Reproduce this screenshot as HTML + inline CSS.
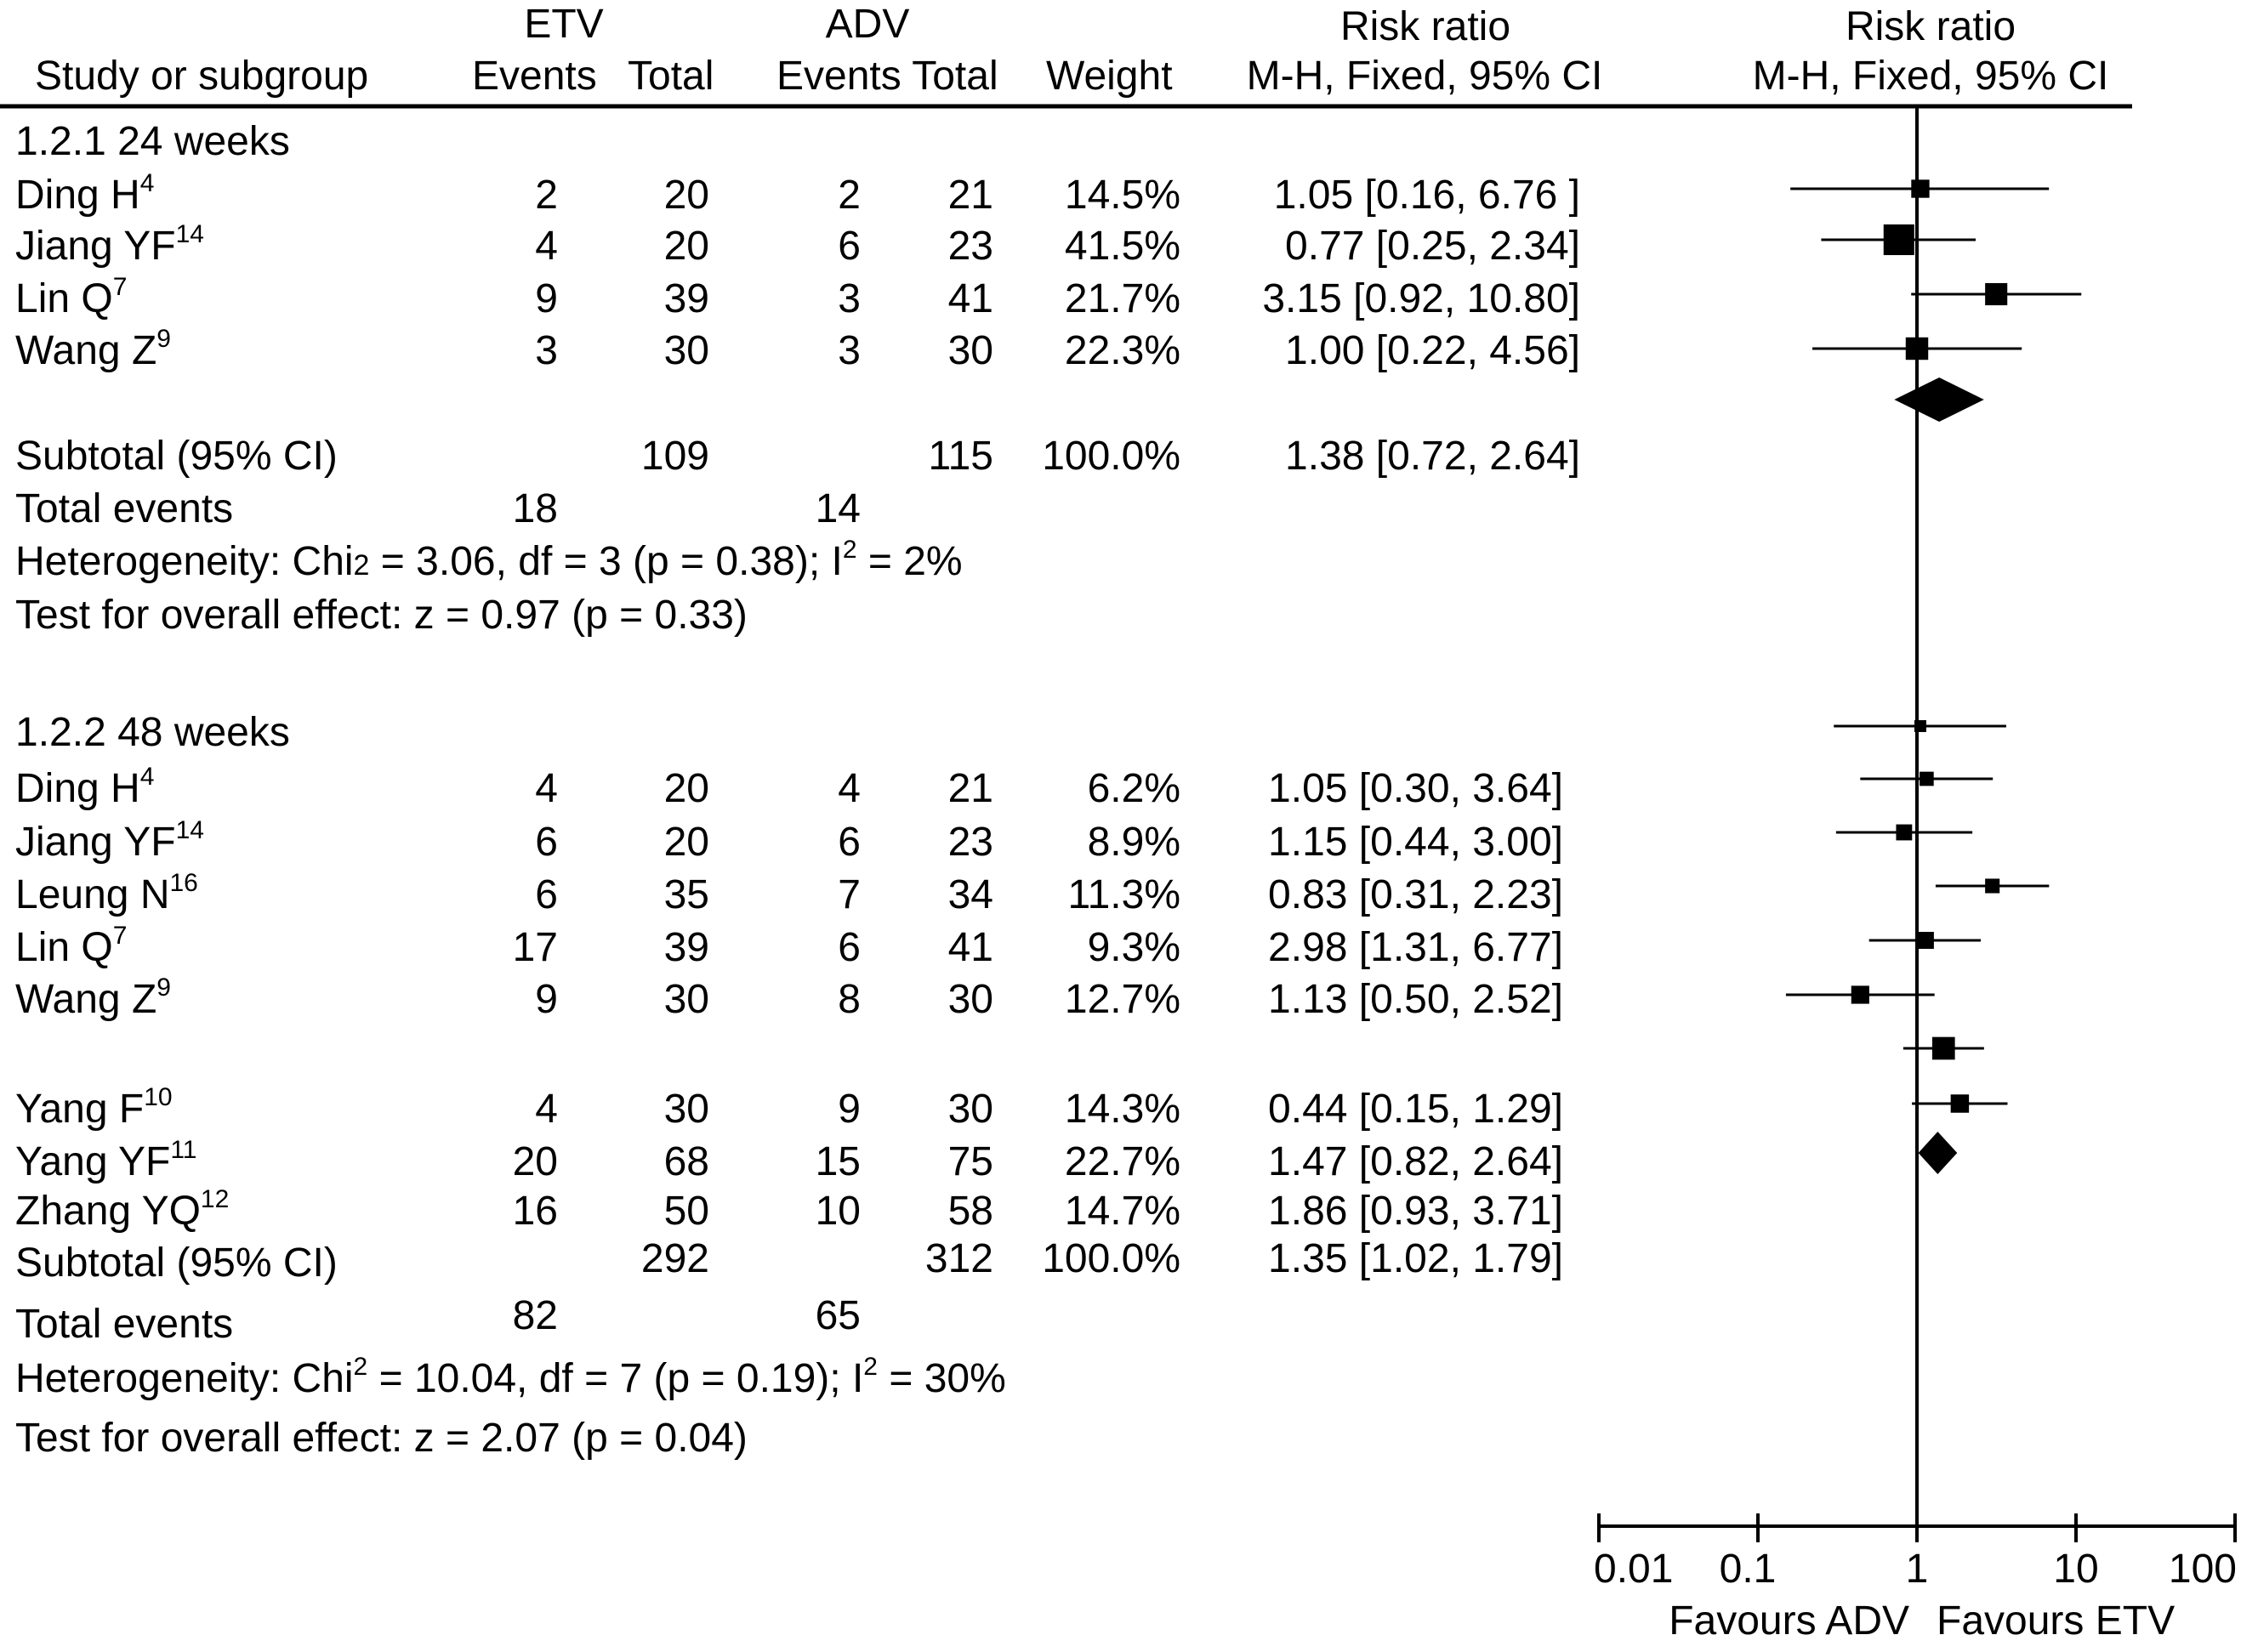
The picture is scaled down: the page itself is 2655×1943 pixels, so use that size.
<!DOCTYPE html>
<html><head><meta charset="utf-8"><style>
html,body{margin:0;padding:0;background:#fff}
svg{display:block}
text{font-family:"Liberation Sans",Arial,sans-serif;font-size:48px;fill:#000}
</style></head><body>
<svg id="chart" width="2655" height="1943" viewBox="0 0 2655 1943" xmlns="http://www.w3.org/2000/svg">
<g id="table"></g>
<g id="plot"></g>
</svg>
<script>
// ---- data ----
const studyNames = ["Ding H","Jiang YF","Lin Q","Wang Z","Ding H","Jiang YF","Leung N","Lin Q","Wang Z","Yang F","Yang YF","Zhang YQ"];
const studyRefs = ["4","14","7","9","4","14","16","7","9","10","11","12"];
const etvEvents = [2,4,9,3,4,6,6,17,9,4,20,16];
const etvTotal = [20,20,39,30,20,20,35,39,30,30,68,50];
const advEvents = [2,6,3,3,4,6,7,6,8,9,15,10];
const advTotal = [21,23,41,30,21,23,34,41,30,30,75,58];
const weights = [14.5,41.5,21.7,22.3,6.2,8.9,11.3,9.3,12.7,14.3,22.7,14.7];
const rrText = ["1.05 [0.16, 6.76 ]","0.77 [0.25, 2.34]","3.15 [0.92, 10.80]","1.00 [0.22, 4.56]","1.05 [0.30, 3.64]","1.15 [0.44, 3.00]","0.83 [0.31, 2.23]","2.98 [1.31, 6.77]","1.13 [0.50, 2.52]","0.44 [0.15, 1.29]","1.47 [0.82, 2.64]","1.86 [0.93, 3.71]"];
const rr = [1.05,0.77,3.15,1.00,1.05,1.15,0.83,2.98,1.13,0.44,1.47,1.86];
const ciLow = [0.16,0.25,0.92,0.22,0.30,0.44,0.31,1.31,0.50,0.15,0.82,0.93];
const ciHigh = [6.76,2.34,10.80,4.56,3.64,3.00,2.23,6.77,2.52,1.29,2.64,3.71];
const subRR = [1.38,1.35];
const subLow = [0.72,1.02];
const subHigh = [2.64,1.79];
const subEtvTotal = [109,292];
const subAdvTotal = [115,312];
const subEtvEvents = [18,82];
const subAdvEvents = [14,65];
const subRRText = ["1.38 [0.72, 2.64]","1.35 [1.02, 1.79]"];
const tickValues = [0.01,0.1,1,10,100];
const tickLabels = ["0.01","0.1","1","10","100"];

// ---- layout ----
const textY = [245,305,367,428,943,1006,1068,1130,1191,1320,1382,1440];
const markY = [222,282,346,410,854,916,979,1042,1106,1170,1233,1298];
const subTextY = [552,1501], subMarkY = [470,1356];
const X0 = 2254, DEC = 187;
const xs = v => X0 + DEC*Math.log10(v);
const NS = "http://www.w3.org/2000/svg";
const T = document.getElementById('table'), P = document.getElementById('plot');
function mk(tag, parent, attrs){const e=document.createElementNS(NS,tag);for(const k in attrs)e.setAttribute(k,attrs[k]);parent.appendChild(e);return e;}
function txt(parent,x,y,s,anchor,name){const e=mk('text',parent,{x:x,y:y,'text-anchor':anchor||'start'});e.textContent=s;


return e;}

// headers
txt(T,663,44,"ETV","middle","etv-header");
txt(T,1020,44,"ADV","middle","adv-header");
txt(T,1676,47,"Risk ratio","middle","risk-ratio-header");
txt(T,2270,47,"Risk ratio","middle","plot-risk-ratio-header");
txt(T,41,105,"Study or subgroup","start","study-header");
txt(T,555,105,"Events","start","etv-events-header");
txt(T,738,105,"Total","start","etv-total-header");
txt(T,913,105,"Events Total","start","adv-events-total-header");
txt(T,1230,105,"Weight","start","weight-header");
txt(T,1675,105,"M-H, Fixed, 95% CI","middle","ci-header");
txt(T,2270,105,"M-H, Fixed, 95% CI","middle","plot-ci-header");
const hl = mk('line',T,{x1:0,y1:125,x2:2507,y2:125,stroke:'#000','stroke-width':5});



txt(T,18,182,"1.2.1 24 weeks","start","subgroup-24-weeks");
txt(T,18,877,"1.2.2 48 weeks","start","subgroup-48-weeks");

for(let i=0;i<studyNames.length;i++){
  const y=textY[i];
  const n=txt(T,18,y,studyNames[i],"start","study-name");
  const sp=mk('tspan',n,{'font-size':'30','dy':'-20'}); sp.textContent=studyRefs[i];
  txt(T,656,y,String(etvEvents[i]),"end","etv-events");
  txt(T,834,y,String(etvTotal[i]),"end","etv-total");
  txt(T,1012,y,String(advEvents[i]),"end","adv-events");
  txt(T,1168,y,String(advTotal[i]),"end","adv-total");
  txt(T,1388,y,weights[i].toFixed(1)+"%","end","weight");
  txt(T,i<4?1858:1838,y,rrText[i],"end","risk-ratio-ci");
}
for(let g=0;g<2;g++){
  const y=subTextY[g];
  txt(T,18,y,"Subtotal (95% CI)","start","subtotal-label");
  txt(T,834,y-(g?5:0),String(subEtvTotal[g]),"end","subtotal-etv-total");
  txt(T,1168,y-(g?5:0),String(subAdvTotal[g]),"end","subtotal-adv-total");
  txt(T,1388,y-(g?5:0),"100.0%","end","subtotal-weight");
  txt(T,g?1838:1858,y-(g?5:0),subRRText[g],"end","subtotal-risk-ratio");
  const ty = g?1573:614;
  txt(T,18,ty,"Total events","start","total-events-label");
  txt(T,656,ty-(g?10:0),String(subEtvEvents[g]),"end","total-etv-events");
  txt(T,1012,ty-(g?10:0),String(subAdvEvents[g]),"end","total-adv-events");
}
// heterogeneity lines
let h1=txt(T,18,676,"Heterogeneity: Chi","start","heterogeneity-24");
let s=mk('tspan',h1,{'font-size':'34'}); s.textContent="2";
s=mk('tspan',h1,{}); s.textContent=" = 3.06, df = 3 (p = 0.38); I";
s=mk('tspan',h1,{'font-size':'30','dy':'-20'}); s.textContent="2";
s=mk('tspan',h1,{'dy':'20'}); s.textContent=" = 2%";
txt(T,18,739,"Test for overall effect: z = 0.97 (p = 0.33)","start","overall-effect-24");
let h2=txt(T,18,1637,"Heterogeneity: Chi","start","heterogeneity-48");
s=mk('tspan',h2,{'font-size':'30','dy':'-20'}); s.textContent="2";
s=mk('tspan',h2,{'dy':'20'}); s.textContent=" = 10.04, df = 7 (p = 0.19); I";
s=mk('tspan',h2,{'font-size':'30','dy':'-20'}); s.textContent="2";
s=mk('tspan',h2,{'dy':'20'}); s.textContent=" = 30%";
txt(T,18,1707,"Test for overall effect: z = 2.07 (p = 0.04)","start","overall-effect-48");

// plot: reference line
const AXY=1795;
const vl=mk('line',P,{x1:xs(1),y1:125,x2:xs(1),y2:AXY,stroke:'#000','stroke-width':4});


// axis
const ax=mk('line',P,{x1:xs(tickValues[0]),y1:AXY,x2:xs(tickValues[tickValues.length-1]),y2:AXY,stroke:'#000','stroke-width':4});


tickValues.forEach((v,i)=>{
  const t=mk('line',P,{x1:xs(v),y1:1780,x2:xs(v),y2:1814,stroke:'#000','stroke-width':4});
  
  
  const last = i===tickValues.length-1;
  const anchor = i===0 ? "start" : (last ? "end" : "middle");
  const lx = i===0 ? xs(v)-6 : (last ? xs(v)+2 : xs(v)-(i===1?12:0));
  txt(P,lx,1861,tickLabels[i],anchor,"x-tick-label");
});
txt(P,2245,1922,"Favours ADV","end","favours-adv-label");
txt(P,2277,1922,"Favours ETV","start","favours-etv-label");
// studies
for(let i=0;i<rr.length;i++){
  const y=markY[i];
  const l=mk('line',P,{x1:xs(ciLow[i]),y1:y,x2:xs(ciHigh[i]),y2:y,stroke:'#000','stroke-width':3});
  
  
  const sz=5.6*Math.sqrt(weights[i]);
  const r=mk('rect',P,{x:xs(rr[i])-sz/2,y:y-sz/2,width:sz,height:sz,fill:'#000'});
  
  
}
// subtotal diamonds
for(let g=0;g<2;g++){
  const y=subMarkY[g], h=g?25:26;
  const d=mk('polygon',P,{points:`${xs(subLow[g])},${y} ${xs(subRR[g])},${y-h} ${xs(subHigh[g])},${y} ${xs(subRR[g])},${y+h}`,fill:'#000'});
  
  
}
</script>
</body></html>
